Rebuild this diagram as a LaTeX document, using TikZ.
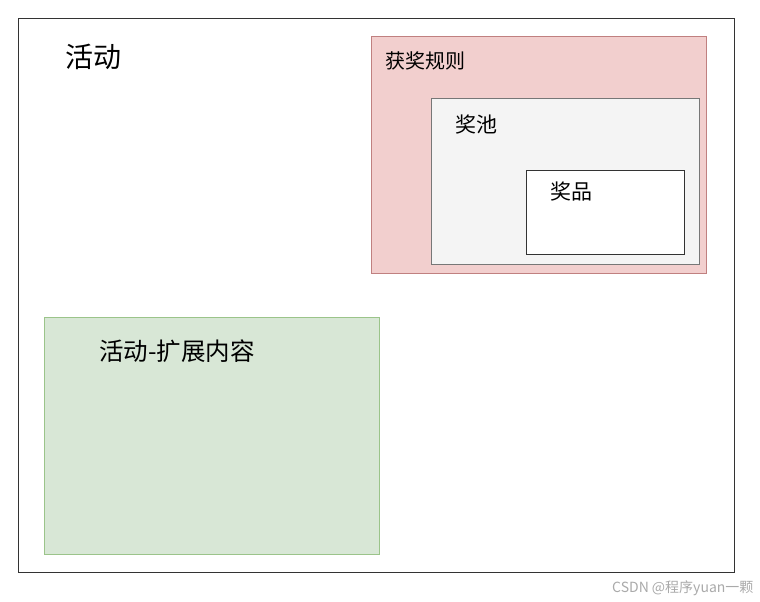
\documentclass[tikz,border=0pt]{standalone}
\usepackage{fontspec}
\setmainfont{Noto Sans CJK SC}
\newfontfamily\cjk{Noto Sans CJK SC}
\definecolor{redfill}{HTML}{F2CFCE}
\definecolor{redline}{HTML}{C08080}
\definecolor{grayfill}{HTML}{F4F4F4}
\definecolor{grayline}{HTML}{777777}
\definecolor{greenfill}{HTML}{D8E7D6}
\definecolor{greenline}{HTML}{9BC48A}
\definecolor{wm}{HTML}{AAAAAA}
\begin{document}
\begin{tikzpicture}[x=1pt,y=-1pt,
  lbl/.style={anchor=west,inner sep=0pt,font=\cjk},
  boxline/.style={line width=0.9pt}]
\useasboundingbox (0,0) rectangle (760,602);
\fill[white] (0,0) rectangle (760,602);
\draw[boxline,draw=black!80] (18,18) rectangle (734,572);
\draw[boxline,draw=redline,fill=redfill] (371,36) rectangle (706,273);
\draw[boxline,draw=grayline,fill=grayfill] (431,98) rectangle (699,264);
\draw[boxline,draw=black!80,fill=white] (526,170) rectangle (684,254);
\draw[boxline,draw=greenline,fill=greenfill] (44,317) rectangle (379,554);
\node[lbl,font=\cjk\fontsize{28}{32}\selectfont] (act) at (65,57) {活动};
\node[lbl,font=\cjk\fontsize{20}{24}\selectfont] (rule) at (385,61) {获奖规则};
\node[lbl,font=\cjk\fontsize{21}{25}\selectfont] (pool) at (455,124) {奖池};
\node[lbl,font=\cjk\fontsize{21}{25}\selectfont] (prize) at (550,191) {奖品};
\node[lbl,font=\cjk\fontsize{24.5}{28}\selectfont] (ext) at (99,351) {活动-扩展内容};
\node[lbl,font=\cjk\fontsize{14}{16}\selectfont,text=wm] (mark) at (612,588) {CSDN @程序yuan一颗};
\end{tikzpicture}
\end{document}
